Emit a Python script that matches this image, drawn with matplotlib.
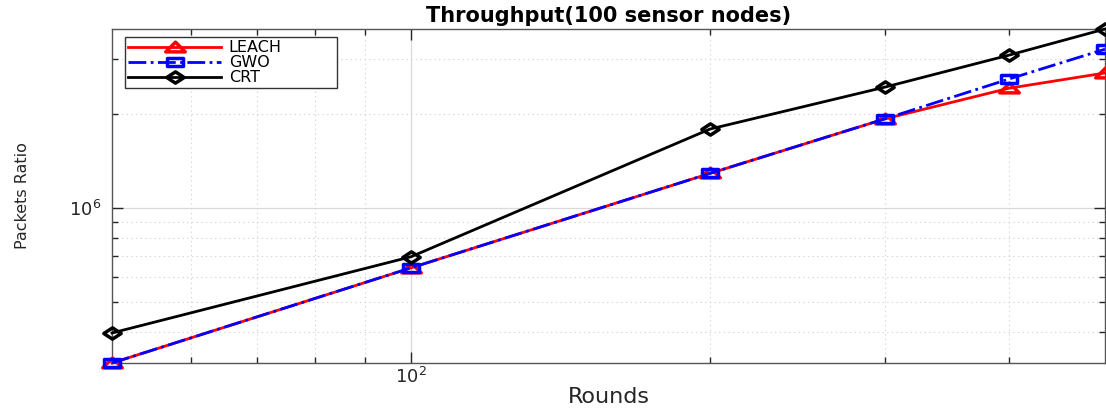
import matplotlib
matplotlib.use("Agg")
import matplotlib.pyplot as plt
from matplotlib.ticker import NullFormatter, FixedLocator
from matplotlib.path import Path

rounds = [50, 100, 200, 300, 400, 500]
leach = [3.18e5, 6.42e5, 1.29e6, 1.93e6, 2.42e6, 2.71e6]
gwo = [3.18e5, 6.42e5, 1.29e6, 1.93e6, 2.59e6, 3.23e6]
crt = [3.97e5, 6.97e5, 1.79e6, 2.44e6, 3.09e6, 3.75e6]

plt.rcParams['font.family'] = ['DejaVu Sans']

# horizontally widened marker shapes
tri = Path([(-1.0, -0.45), (0.0, 0.55), (1.0, -0.45), (-1.0, -0.45)],
           [Path.MOVETO, Path.LINETO, Path.LINETO, Path.CLOSEPOLY])
sq = Path([(-1.0, -0.45), (1.0, -0.45), (1.0, 0.45), (-1.0, 0.45), (-1.0, -0.45)],
          [Path.MOVETO, Path.LINETO, Path.LINETO, Path.LINETO, Path.CLOSEPOLY])
dia = Path([(-1.0, 0.0), (0.0, 0.65), (1.0, 0.0), (0.0, -0.65), (-1.0, 0.0)],
           [Path.MOVETO, Path.LINETO, Path.LINETO, Path.LINETO, Path.CLOSEPOLY])

fig = plt.figure(figsize=(11.06, 4.08), dpi=100)
ax = fig.add_axes([112/1106, 1-363/408, (1105-112)/1106, (363-29)/408])

ax.plot(rounds, leach, '-', color=(1, 0, 0), lw=2.0, marker=tri, ms=14,
        mfc='none', mew=2.5, label='LEACH', clip_on=False, zorder=3)
ax.plot(rounds, gwo, '-.', color=(0, 0, 1), lw=2.0, marker=sq, ms=12,
        mfc='none', mew=2.5, label='GWO', clip_on=False, zorder=4)
ax.plot(rounds, crt, '-', color='black', lw=2.0, marker=dia, ms=12.5,
        mfc='none', mew=2.5, label='CRT', clip_on=False, zorder=5)

ax.set_xscale('log')
ax.set_yscale('log')
ax.set_xlim(min(rounds), max(rounds))
ax.set_ylim(min(leach + gwo + crt), max(leach + gwo + crt))

ax.xaxis.set_major_locator(FixedLocator([100]))
ax.xaxis.set_minor_locator(FixedLocator([60, 70, 80, 90, 200, 300, 400]))
ax.yaxis.set_major_locator(FixedLocator([1e6]))
ax.yaxis.set_minor_locator(FixedLocator([4e5, 5e5, 6e5, 7e5, 8e5, 9e5, 2e6, 3e6]))
ax.xaxis.set_minor_formatter(NullFormatter())
ax.yaxis.set_minor_formatter(NullFormatter())

ax.grid(True, which='major', color='#d9d9d9', lw=0.9, ls='-')
ax.grid(True, which='minor', color='#d4d4d4', lw=0.8, ls=(0, (1.2, 3)))
ax.set_axisbelow(True)

ax.tick_params(which='both', direction='in', top=True, right=True,
               colors='#262626', labelsize=13)
ax.tick_params(axis='y', which='both', pad=8)
ax.tick_params(axis='x', which='both', pad=3)
ax.tick_params(which='major', length=8, width=1)
ax.tick_params(which='minor', length=4, width=1)
for s in ax.spines.values():
    s.set_color('#555555')
    s.set_linewidth(1)

ax.set_title('Throughput(100 sensor nodes)', fontsize=15, fontweight='bold', pad=5)
ax.set_xlabel('Rounds', fontsize=16, color='#262626', labelpad=0)
ax.set_ylabel('Packets Ratio', fontsize=11.5, color='#262626', labelpad=28)

# legend box: x 125..337 px, top at 37 px (figure coords -> axes coords)
lx0 = (125 - 112) / 993
lw_ = (337 - 125) / 993
ltop = 1 - (37 - 29) / 334
leg = ax.legend(loc='upper left', bbox_to_anchor=(lx0, ltop - 0.2, lw_, 0.2),
                mode='expand', fontsize=11.5,
                handlelength=5.8, handletextpad=0.5, labelspacing=0.0,
                borderpad=0.2, borderaxespad=0, fancybox=False, framealpha=1,
                edgecolor='#333333')
leg.get_frame().set_linewidth(1)

fig.savefig('out.png', dpi=100)
